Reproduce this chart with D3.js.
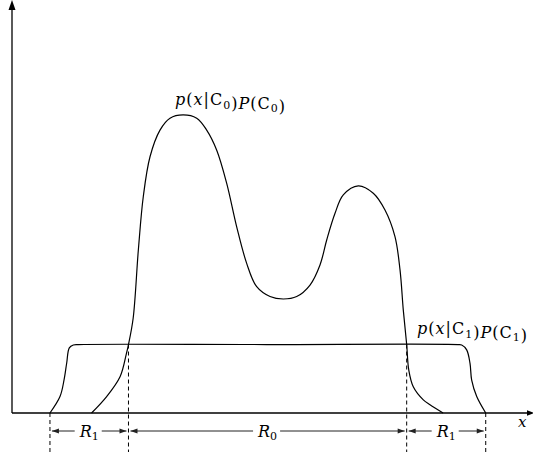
<!DOCTYPE html>
<html>
<head>
<meta charset="utf-8">
<script src="https://cdn.jsdelivr.net/npm/d3@7"></script>
<style>
  html, body { margin: 0; padding: 0; background: #fff; }
  svg { display: block; }
  text { font-family: "DejaVu Serif", "Liberation Serif", serif; fill: #000; }
</style>
</head>
<body>
<svg id="chart" width="533" height="455"></svg>
<script>
// Class-conditional densities weighted by priors, p(x|C_k)P(C_k)
const classC0 = [
  [1.53, 0.000], [1.82, 0.040], [2.08, 0.089], [2.20, 0.145], [2.24, 0.167],
  [2.33, 0.231], [2.43, 0.398], [2.525, 0.528], [2.654, 0.625], [2.846, 0.690],
  [3.038, 0.719], [3.29, 0.727], [3.552, 0.719], [3.744, 0.690], [3.937, 0.641],
  [4.129, 0.560], [4.321, 0.454], [4.513, 0.365], [4.706, 0.308], [4.962, 0.284],
  [5.217, 0.278], [5.475, 0.284], [5.731, 0.312], [5.923, 0.361], [6.052, 0.422],
  [6.212, 0.487], [6.371, 0.532], [6.66, 0.554], [6.948, 0.536], [7.173, 0.495],
  [7.365, 0.430], [7.462, 0.349], [7.525, 0.251], [7.59, 0.167], [7.63, 0.105],
  [7.717, 0.064], [7.91, 0.032], [8.038, 0.020], [8.29, 0.000]
];
const classC1 = [
  [0.73, 0.000], [0.923, 0.040], [1.0, 0.080], [1.052, 0.122], [1.102, 0.159],
  [1.179, 0.166], [1.275, 0.167], [4.9, 0.167], [8.577, 0.167], [8.648, 0.166],
  [8.744, 0.154], [8.808, 0.121], [8.84, 0.080], [8.937, 0.040], [9.11, 0.000]
];
// Decision boundaries and the regions between them
const boundaries = [0.73, 2.24, 7.59, 9.11];
const regionNames = ["R", "R", "R"];
const regionSubs = ["1", "0", "1"];
const boundaryLevels = [0, 0.167, 0.167, 0];

const svg = d3.select("#chart");
const x = d3.scaleLinear().domain([0, 10]).range([12, 532]);
const y = d3.scaleLinear().domain([0, 1]).range([413, 3]);

// axes with arrowheads
svg.append("line").attr("x1", x(0)).attr("y1", y(0)).attr("x2", x(0)).attr("y2", 8)
  .attr("stroke", "#000").attr("stroke-width", 1.3);
svg.append("path").attr("d", `M${x(0)},0 L${x(0) - 3.5},10 L${x(0) + 3.5},10 Z`).attr("fill", "#000");
svg.append("line").attr("x1", x(0)).attr("y1", y(0)).attr("x2", 529).attr("y2", y(0))
  .attr("stroke", "#000").attr("stroke-width", 1.3);
svg.append("path").attr("d", `M534,${y(0)} L527,${y(0) - 2.8} L527,${y(0) + 2.8} Z`).attr("fill", "#000");

svg.append("text").attr("x", 518).attr("y", 427).attr("font-style", "italic")
  .attr("font-size", 15).text("x");

// density curves
const line = d3.line().x(d => x(d[0])).y(d => y(d[1])).curve(d3.curveCatmullRom.alpha(0.5));
svg.append("path").datum(classC1).attr("d", line)
  .attr("fill", "none").attr("stroke", "#000").attr("stroke-width", 1.2);
svg.append("path").datum(classC0).attr("d", line)
  .attr("fill", "none").attr("stroke", "#000").attr("stroke-width", 1.2);

// dashed boundary markers
boundaries.forEach((b, i) => {
  svg.append("line").attr("x1", x(b)).attr("x2", x(b))
    .attr("y1", y(boundaryLevels[i])).attr("y2", 452)
    .attr("stroke", "#000").attr("stroke-width", 1).attr("stroke-dasharray", "4,3");
});

// curve labels: p(x|C_k)P(C_k)
function mathLabel(px, py, k) {
  const t = svg.append("text").attr("x", px).attr("y", py).attr("font-size", 16)
    .attr("letter-spacing", 1);
  const parts = [
    ["p", true], ["(", false], ["x", true], ["|", false], ["C", false], ["sub", k],
    [")", false], ["P", true], ["(", false], ["C", false], ["sub", k], [")", false]
  ];
  parts.forEach(([s, it]) => {
    if (s === "sub") {
      t.append("tspan").attr("dy", 3.5).attr("font-size", 11).text(it);
      t.append("tspan").attr("dy", -3.5).text("");
    } else {
      t.append("tspan").attr("font-style", it ? "italic" : "normal").text(s);
    }
  });
  return t;
}
mathLabel(175, 105, "0");
mathLabel(417, 334, "1");

// region labels with double-headed spans
const arrowY = 431;
function arrowHead(tipX, dir) {
  svg.append("path")
    .attr("d", `M${tipX},${arrowY} L${tipX - dir * 7},${arrowY - 2.6} L${tipX - dir * 7},${arrowY + 2.6} Z`)
    .attr("fill", "#222");
}
regionNames.forEach((name, i) => {
  const x0 = x(boundaries[i]), x1 = x(boundaries[i + 1]);
  const cx = (x0 + x1) / 2;
  const t = svg.append("text").attr("x", cx).attr("y", 437).attr("font-size", 16)
    .attr("text-anchor", "middle");
  t.append("tspan").attr("font-style", "italic").text(name);
  t.append("tspan").attr("dy", 3).attr("font-size", 11).text(regionSubs[i]);
  const bb = t.node().getBBox();
  const left = x0 + 2, right = x1 - 2;
  svg.append("line").attr("x1", left).attr("x2", bb.x - 4).attr("y1", arrowY).attr("y2", arrowY)
    .attr("stroke", "#222").attr("stroke-width", 1);
  svg.append("line").attr("x1", bb.x + bb.width + 3).attr("x2", right).attr("y1", arrowY).attr("y2", arrowY)
    .attr("stroke", "#222").attr("stroke-width", 1);
  arrowHead(left, -1);
  arrowHead(right, 1);
});
</script>
</body>
</html>
